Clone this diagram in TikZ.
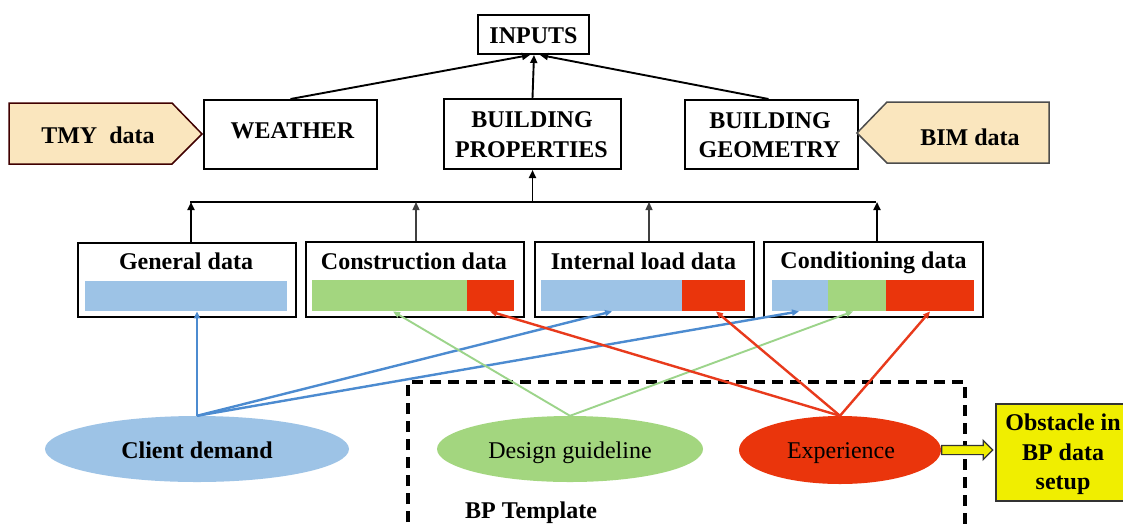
\documentclass[tikz,border=0pt]{standalone}
\usepackage{fontspec}
\setmainfont{Liberation Serif}
\usetikzlibrary{arrows.meta,calc,shapes.geometric,shapes.arrows}
\definecolor{fillblue}{HTML}{9DC3E6}
\definecolor{fillgreen}{HTML}{A3D67F}
\definecolor{fillred}{HTML}{EA350C}
\definecolor{beige}{HTML}{FAE6BE}
\definecolor{signyellow}{HTML}{F0EE00}
\definecolor{lineblue}{HTML}{4C8BD0}
\definecolor{linegreen}{HTML}{9CD48A}
\definecolor{linered}{HTML}{E83A1C}
\begin{document}
\begin{tikzpicture}[x=1pt,y=-1pt,
  txt/.style={font=\fontsize{24}{29}\selectfont\bfseries, inner sep=0pt, anchor=base},
  plain/.style={font=\fontsize{24}{29}\selectfont, inner sep=0pt, anchor=base},
  box/.style={draw=black, line width=2pt, inner sep=0pt, anchor=north west},
  bar/.style={inner sep=0pt, anchor=north west},
  blob/.style={ellipse, inner sep=0pt},
  pent/.style={line width=1.5pt, fill=beige},
  up/.style={line width=1.9pt, -{Triangle[length=8pt,width=7pt]}},
  thinup/.style={line width=1.3pt, draw=black!75, -{Triangle[length=8pt,width=7pt]}},
  feed/.style={line width=2.4pt, -{Triangle[length=7pt,width=6pt]}},
]
\useasboundingbox (0,0) rectangle (1123,528);
\fill[white] (0,0) rectangle (1123,528);
\clip (0,0) rectangle (1123,528);

% template frame
\draw[line width=3.6pt, dash pattern=on 11pt off 7pt] (408,540) -- (408,382) -- (965,382) -- (965,540);
\node[txt] (tTemplate) at (531,518) {BP Template};

% top level
\node[box, minimum width=111pt, minimum height=39pt] (inputs) at (477,14) {};
\node[txt] (tInputs) at (533.5,43) {INPUTS};

\node[box, minimum width=173pt, minimum height=69pt] (weather) at (203,99) {};
\node[txt] (tWeather) at (292.5,138) {WEATHER};

\node[box, minimum width=177pt, minimum height=70pt] (bprop) at (443,98) {};
\node[txt] (tBprop1) at (532,127) {BUILDING};
\node[txt] (tBprop2) at (531.5,157) {PROPERTIES};

\node[box, minimum width=173pt, minimum height=69pt] (bgeom) at (684,99) {};
\node[txt] (tBgeom1) at (770,128) {BUILDING};
\node[txt] (tBgeom2) at (769.5,157) {GEOMETRY};

% data sources on the sides
\draw[pent, draw=black!75!red] (9,103) -- (172,103) -- (202,134) -- (172,164) -- (9,164) -- cycle;
\node[txt] (tTmy) at (98,143) {TMY~~data};
\draw[pent, draw=black!70] (857,133) -- (887,102) -- (1049,102) -- (1049,163) -- (887,163) -- cycle;
\node[txt] (tBim) at (970,145) {BIM data};

% data groups
\node[box, minimum width=218pt, minimum height=74pt] (gen) at (77,242) {};
\node[bar, fill=fillblue, minimum width=202pt, minimum height=30pt] (genB) at (85,281) {};
\node[txt] (tGen) at (186,269) {General data};

\node[box, minimum width=218pt, minimum height=75pt] (con) at (305,241) {};
\node[bar, fill=fillgreen, minimum width=155pt, minimum height=31pt] (conG) at (312,280) {};
\node[bar, fill=fillred, minimum width=47pt, minimum height=31pt] (conR) at (467,280) {};
\node[txt] (tCon) at (414,269.5) {Construction data};

\node[box, minimum width=219pt, minimum height=75pt] (int) at (534,241) {};
\node[bar, fill=fillblue, minimum width=141pt, minimum height=31pt] (intB) at (541,280) {};
\node[bar, fill=fillred, minimum width=63pt, minimum height=31pt] (intR) at (682,280) {};
\node[txt] (tInt) at (643.5,269) {Internal load data};

\node[box, minimum width=219pt, minimum height=75pt] (cond) at (763,241) {};
\node[bar, fill=fillblue, minimum width=56pt, minimum height=31pt] (condB) at (772,280) {};
\node[bar, fill=fillgreen, minimum width=58pt, minimum height=31pt] (condG) at (828,280) {};
\node[bar, fill=fillred, minimum width=88pt, minimum height=31pt] (condR) at (886,280) {};
\node[txt] (tCond) at (873.5,268) {Conditioning data};

% tree of inputs
\coordinate (busL) at (190,202);
\coordinate (busR) at (876,202);
\draw[line width=1.9pt] (busL) -- (busR);
\draw[up] ([xshift=4pt]gen.north) -- ([xshift=4pt]gen.north |- busL);
\draw[thinup] ([xshift=1pt]con.north) -- ([xshift=1pt]con.north |- busL);
\draw[thinup] ([xshift=4.5pt]int.north) -- ([xshift=4.5pt]int.north |- busL);
\draw[up] ([xshift=3.5pt]cond.north) -- ([xshift=3.5pt]cond.north |- busL);
\draw[up] (bprop.south |- busL) -- (bprop.south);
\draw[up] (weather.north) -- ([xshift=-3.5pt]inputs.south);
\draw[up] (bprop.north) -- ([xshift=0.5pt]inputs.south);
\draw[up] ([xshift=-3pt]bgeom.north) -- ([xshift=6.5pt]inputs.south);

% sources of the data
\node[blob, fill=fillblue, minimum width=304pt, minimum height=66pt] (client) at (197,449) {};
\node[txt] (tClient) at (197,458) {Client demand};
\node[blob, fill=fillgreen, minimum width=266pt, minimum height=66pt] (design) at (570,449) {};
\node[plain] (tDesign) at (570,458) {Design guideline};
\node[blob, fill=fillred, minimum width=202pt, minimum height=68pt] (exper) at (840,450) {};
\node[plain] (tExper) at (841,458) {Experience};

\draw[feed, lineblue] (client.north) -- ($(genB.south west)+(112,0)$);
\draw[feed, lineblue] (client.north) -- ($(intB.south west)+(71,0)$);
\draw[feed, lineblue] (client.north) -- ($(condB.south west)+(27,0)$);
\draw[feed, linegreen, line width=1.9pt] (design.north) -- ($(conG.south west)+(81,0)$);
\draw[feed, linegreen, line width=1.9pt] (design.north) -- ($(condG.south west)+(25,0)$);
\draw[feed, linered] (exper.north) -- ($(conR.south west)+(23,0)$);
\draw[feed, linered] (exper.north) -- ($(intR.south west)+(34,0)$);
\draw[feed, linered] (exper.north) -- ($(condR.south west)+(44,0)$);

% outcome
\node[box, draw=black!80, fill=signyellow, line width=1.8pt, minimum width=150pt, minimum height=97pt] (obst) at (995,403) {};
\node[txt] (tObst1) at (1063,430) {Obstacle in};
\node[txt] (tObst2) at (1063,460) {BP data};
\node[txt] (tObst3) at (1063,489) {setup};
\node[single arrow, draw=black!80, fill=signyellow, line width=1.2pt, inner sep=4pt,
  single arrow head extend=5pt, minimum height=51pt, anchor=tail] (toObst) at (exper.east) {};
\end{tikzpicture}
\end{document}
